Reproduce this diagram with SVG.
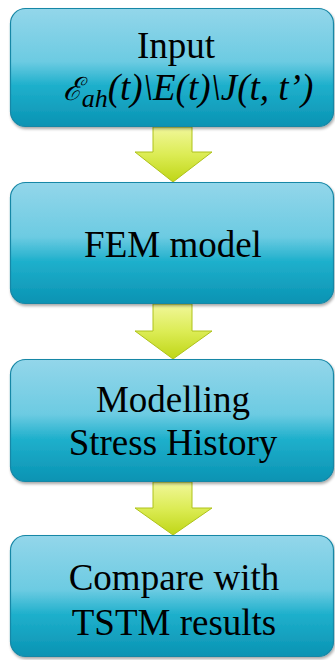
<svg xmlns="http://www.w3.org/2000/svg" width="335" height="660" viewBox="0 0 335 660">
<defs>
<linearGradient id="boxg" x1="0" y1="0" x2="0" y2="1">
<stop offset="0" stop-color="#93d6ea"/>
<stop offset="0.45" stop-color="#6ccbe2"/>
<stop offset="0.65" stop-color="#1fb0cc"/>
<stop offset="1" stop-color="#0a93b3"/>
</linearGradient>
<linearGradient id="arrg" x1="0" y1="0" x2="0" y2="1">
<stop offset="0" stop-color="#f1f79a"/>
<stop offset="0.5" stop-color="#dcec55"/>
<stop offset="1" stop-color="#bfd616"/>
</linearGradient>
<filter id="sh" x="-5%" y="-5%" width="110%" height="115%">
<feGaussianBlur in="SourceAlpha" stdDeviation="1.5"/>
<feOffset dx="1" dy="2"/>
<feComponentTransfer><feFuncA type="linear" slope="0.35"/></feComponentTransfer>
<feMerge><feMergeNode/><feMergeNode in="SourceGraphic"/></feMerge>
</filter>
</defs>
<style>
.box{fill:url(#boxg);stroke:#1687a6;stroke-width:1.2;filter:url(#sh)}
.arr{fill:url(#arrg);stroke:#aec21a;stroke-width:1}
.t{font-size:37px;fill:#000;text-anchor:middle}
.i{font-style:italic}
</style>
<g id="connectors">
<path class="arr" d="M153,127 H192 V152 H212 L173,182 L135,152 H153 Z"/>
<path class="arr" d="M153,304 H192 V331 H212 L173,359 L135,331 H153 Z"/>
<path class="arr" d="M153,482 H192 V508 H212 L173,535 L135,508 H153 Z"/>
</g>
<g id="node1">
<rect class="box" x="10.5" y="8.5" width="323" height="118" rx="15"/>
<text class="t" x="176" y="58" style="font-family:'Liberation Serif','Times New Roman',serif !important">Input</text>
<text class="t i" x="188" y="100" style="font-family:'Liberation Serif','Times New Roman',serif !important"><tspan style="font-family:'DejaVu Serif',serif !important" font-size="32">ℰ</tspan><tspan font-size="26" dy="7">ah</tspan><tspan dy="-7">(t)\E(t)\J(t, t’)</tspan></text>
</g>
<g id="node2">
<rect class="box" x="10.5" y="182.5" width="323" height="121" rx="15"/>
<text class="t" x="173" y="257" style="font-family:'Liberation Serif','Times New Roman',serif !important">FEM model</text>
</g>
<g id="node3">
<rect class="box" x="10.5" y="359.5" width="323" height="122" rx="15"/>
<text class="t" x="173" y="412" style="font-family:'Liberation Serif','Times New Roman',serif !important">Modelling</text>
<text class="t" x="173" y="455" style="font-family:'Liberation Serif','Times New Roman',serif !important">Stress History</text>
</g>
<g id="node4">
<rect class="box" x="10.5" y="535.5" width="323" height="121" rx="15"/>
<text class="t" x="174" y="590" style="font-family:'Liberation Serif','Times New Roman',serif !important">Compare with</text>
<text class="t" x="174" y="635" style="font-family:'Liberation Serif','Times New Roman',serif !important">TSTM results</text>
</g>
</svg>
